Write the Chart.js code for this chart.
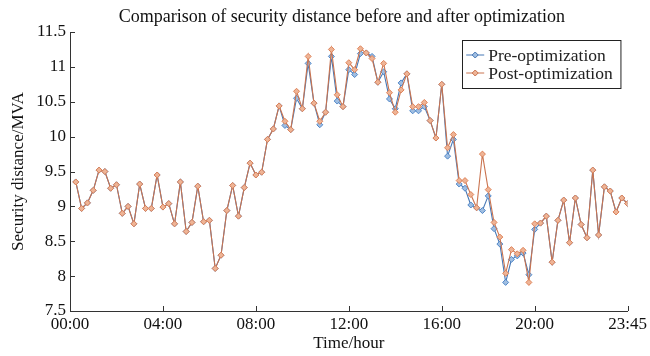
<!DOCTYPE html>
<html>
<head>
<meta charset="utf-8">
<script src="https://cdn.jsdelivr.net/npm/chart.js@4.4.1/dist/chart.umd.min.js"></script>
<style>
  body { margin: 0; background: #fff; }
  #wrap { width: 650px; height: 356px; }
</style>
</head>
<body>
<div id="wrap"><canvas id="myChart" width="650" height="356"></canvas></div>
<script>
// 96 quarter-hour samples
var chartTitle = "Comparison of security distance before and after optimization";
var tickLabels = ["00:00", "04:00", "08:00", "12:00", "16:00", "20:00", "23:45"];
var seriesNames = ["Pre-optimization", "Post-optimization"];

var preOpt = [
  9.35, 8.97, 9.05, 9.23, 9.52, 9.50, 9.26, 9.31, 8.90, 9.00, 8.75, 9.32, 8.97, 8.97, 9.45, 8.99,
  9.04, 8.75, 9.35, 8.64, 8.77, 9.29, 8.78, 8.80, 8.11, 8.30, 8.94, 9.30, 8.86, 9.27, 9.62, 9.45,
  9.49, 9.96, 10.11, 10.44, 10.16, 10.10, 10.55, 10.40, 11.05, 10.48, 10.17, 10.35, 11.15, 10.51, 10.43, 10.96,
  10.89, 11.19, 11.20, 11.15, 10.78, 10.93, 10.54, 10.40, 10.77, 10.90, 10.37, 10.37, 10.43, 10.23, 9.98, 10.75,
  9.72, 9.96, 9.32, 9.26, 9.02, 8.98, 8.94, 9.15, 8.68, 8.46, 7.91, 8.24, 8.29, 8.33, 8.02, 8.67,
  8.76, 8.86, 8.20, 8.80, 9.09, 8.48, 9.12, 8.74, 8.55, 9.52, 8.59, 9.28, 9.22, 8.92, 9.12, 9.04
];
var postOpt = [
  9.35, 8.97, 9.05, 9.23, 9.52, 9.50, 9.26, 9.31, 8.90, 9.00, 8.75, 9.32, 8.97, 8.97, 9.45, 8.99,
  9.04, 8.75, 9.35, 8.64, 8.77, 9.29, 8.78, 8.80, 8.11, 8.30, 8.94, 9.30, 8.86, 9.27, 9.62, 9.45,
  9.49, 9.96, 10.11, 10.44, 10.22, 10.10, 10.65, 10.40, 11.15, 10.48, 10.22, 10.35, 11.25, 10.60, 10.43, 11.06,
  10.96, 11.26, 11.20, 11.12, 10.78, 11.05, 10.63, 10.35, 10.67, 10.90, 10.43, 10.43, 10.49, 10.23, 9.98, 10.75,
  9.84, 10.03, 9.37, 9.37, 9.17, 8.98, 9.75, 9.24, 8.77, 8.56, 8.04, 8.38, 8.32, 8.37, 7.91, 8.75,
  8.76, 8.86, 8.20, 8.80, 9.09, 8.48, 9.12, 8.74, 8.55, 9.52, 8.59, 9.28, 9.22, 8.92, 9.12, 9.04
];

var FONT = "'Liberation Serif', 'Times New Roman', serif";
var BLUE = "rgb(70,120,182)";
var ORANGE = "rgb(202,116,80)";

function toPoints(arr) {
  return arr.map(function(v, i) { return { x: i + 1, y: v }; });
}

// title centred over the plot area rather than the whole canvas
var plotTitle = {
  id: "plotTitle",
  afterDraw: function(chart) {
    var ctx = chart.ctx, a = chart.chartArea;
    ctx.save();
    ctx.font = "18px " + FONT;
    ctx.fillStyle = "#111";
    ctx.textAlign = "center";
    ctx.textBaseline = "middle";
    ctx.fillText(chartTitle, (a.left + a.right) / 2 - 7, 17);
    ctx.restore();
  }
};

// inward tick marks like the original figure
var innerTicks = {
  id: "innerTicks",
  afterDraw: function(chart) {
    var ctx = chart.ctx, a = chart.chartArea;
    var xs = chart.scales.x, ys = chart.scales.y;
    ctx.save();
    ctx.strokeStyle = "#333";
    ctx.lineWidth = 1;
    ctx.beginPath();
    xs.ticks.forEach(function(t) {
      var px = Math.round(xs.getPixelForValue(t.value)) + 0.5;
      ctx.moveTo(px, a.bottom);
      ctx.lineTo(px, a.bottom - 5);
    });
    ys.ticks.forEach(function(t) {
      var py = Math.round(ys.getPixelForValue(t.value)) + 0.5;
      ctx.moveTo(a.left, py);
      ctx.lineTo(a.left + 5, py);
    });
    ctx.stroke();
    ctx.restore();
  }
};

// boxed legend in the top right corner of the plot
var boxLegend = {
  id: "boxLegend",
  afterDraw: function(chart) {
    var ctx = chart.ctx, a = chart.chartArea;
    var ds = chart.data.datasets;
    ctx.save();
    ctx.font = "17.5px " + FONT;
    var w = 0;
    ds.forEach(function(d) { w = Math.max(w, ctx.measureText(d.label).width); });
    var boxW = w + 34, boxH = 48;
    var x0 = a.right - 7 - boxW, y0 = a.top + 8;
    ctx.fillStyle = "#fff";
    ctx.fillRect(x0, y0, boxW, boxH);
    ctx.strokeStyle = "#222";
    ctx.lineWidth = 1;
    ctx.strokeRect(Math.round(x0) + 0.5, Math.round(y0) + 0.5, boxW, boxH);
    ds.forEach(function(d, i) {
      var cy = y0 + 15 + i * 18;
      ctx.strokeStyle = d.borderColor;
      ctx.beginPath();
      ctx.moveTo(x0 + 4, cy);
      ctx.lineTo(x0 + 22, cy);
      ctx.stroke();
      ctx.fillStyle = d.pointBackgroundColor;
      ctx.beginPath();
      ctx.moveTo(x0 + 13, cy - 3);
      ctx.lineTo(x0 + 16, cy);
      ctx.lineTo(x0 + 13, cy + 3);
      ctx.lineTo(x0 + 10, cy);
      ctx.closePath();
      ctx.fill();
      ctx.stroke();
      ctx.fillStyle = "#222";
      ctx.textBaseline = "middle";
      ctx.fillText(d.label, x0 + 26, cy + 1);
    });
    ctx.restore();
  }
};

var ctx = document.getElementById("myChart").getContext("2d");
var chart = new Chart(ctx, {
  type: "line",
  data: {
    datasets: [
      {
        label: seriesNames[0],
        data: toPoints(preOpt),
        borderColor: BLUE,
        backgroundColor: BLUE,
        pointBackgroundColor: "rgb(160,190,225)",
        pointBorderColor: "rgb(80,135,200)",
        borderWidth: 1.1,
        pointStyle: "rectRot",
        pointRadius: 3,
        pointBorderWidth: 1,
        tension: 0,
        order: 1
      },
      {
        label: seriesNames[1],
        data: toPoints(postOpt),
        borderColor: ORANGE,
        backgroundColor: ORANGE,
        pointBackgroundColor: "rgb(238,180,150)",
        pointBorderColor: "rgb(222,130,88)",
        borderWidth: 1.1,
        pointStyle: "rectRot",
        pointRadius: 3,
        pointBorderWidth: 1,
        tension: 0,
        order: 0
      }
    ]
  },
  options: {
    responsive: false,
    animation: false,
    layout: { padding: { left: 8, right: 20, top: 32, bottom: 0 } },
    plugins: {
      legend: { display: false },
      tooltip: { enabled: false },
      title: { display: false }
    },
    scales: {
      x: {
        type: "linear",
        min: 0,
        max: 96,
        afterBuildTicks: function(scale) {
          scale.ticks = tickLabels.map(function(l, i) { return { value: i * 16 }; });
        },
        afterFit: function(scale) { scale.height = 45; },
        grid: { display: false, drawTicks: false },
        border: { display: true, color: "#333", width: 1 },
        ticks: {
          autoSkip: false,
          maxRotation: 0,
          padding: 3,
          color: "#111",
          font: { family: FONT, size: 17 },
          callback: function(v) { return tickLabels[Math.round(v / 16)]; }
        },
        title: {
          display: true,
          text: "Time/hour",
          color: "#111",
          font: { family: FONT, size: 17 },
          padding: { top: 0, bottom: 2 }
        }
      },
      y: {
        min: 7.5,
        max: 11.5,
        afterFit: function(scale) { scale.width = 62; },
        grid: { display: false, drawTicks: false },
        border: { display: true, color: "#333", width: 1 },
        ticks: {
          stepSize: 0.5,
          padding: 4,
          color: "#111",
          font: { family: FONT, size: 17 },
          callback: function(v) { return String(v); }
        },
        title: {
          display: true,
          text: "Security distance/MVA",
          color: "#111",
          font: { family: FONT, size: 17 },
          padding: { top: 0, bottom: 0 }
        }
      }
    }
  },
  plugins: [plotTitle, innerTicks, boxLegend]
});
</script>
</body>
</html>
